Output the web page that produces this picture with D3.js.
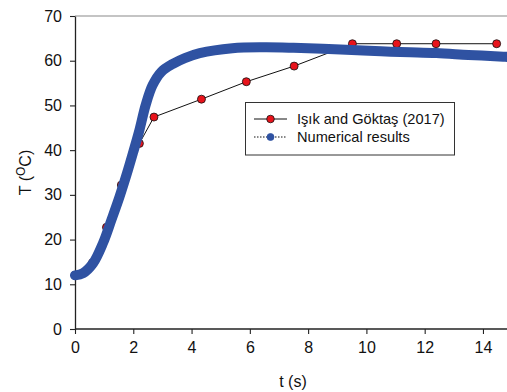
<!DOCTYPE html>
<html>
<head>
<meta charset="utf-8">
<script src="https://cdn.jsdelivr.net/npm/d3@7"></script>
<style>
  body { margin: 0; background: #fff; }
  text { font-family: "Liberation Sans", Arial, sans-serif; }
</style>
</head>
<body>
<div id="chart"></div>
<script>
// experimental data (Işık and Göktaş 2017)
const expTime = [0, 0.6, 1.08, 1.59, 2.21, 2.71, 4.34, 5.88, 7.52, 9.52, 11.04, 12.39, 14.47];
const expTemp = [12, 14.8, 22.75, 32.2, 41.5, 47.4, 51.4, 55.3, 58.8, 63.8, 63.8, 63.8, 63.8];

// numerical results
const numTime = [0, 0.28, 0.62, 0.96, 1.25, 1.53, 1.82, 2.0, 2.2, 2.43, 2.66, 2.96, 3.36, 3.77, 4.28, 5.4, 6.5, 7.5, 8.5, 9.5, 10.5, 11.5, 12.4, 13.5, 14.7, 15];
const numTemp = [12, 12.5, 14.7, 19.2, 24.4, 29.6, 35.6, 39.6, 44.2, 50.2, 54.5, 57.5, 59.3, 60.6, 61.7, 62.8, 63.0, 62.9, 62.7, 62.4, 62.1, 61.9, 61.7, 61.3, 60.9, 60.8];

const xTicks = [0, 2, 4, 6, 8, 10, 12, 14];
const yTicks = [0, 10, 20, 30, 40, 50, 60, 70];
const legendLabels = ["Işık and Göktaş (2017)", "Numerical results"];

const WIDTH = 507, HEIGHT = 392;
const MARGIN = { TOP: 16, LEFT: 75, BOTTOM: 63 };

const svg = d3.select("#chart").append("svg")
  .attr("width", WIDTH)
  .attr("height", HEIGHT);

const x = d3.scaleLinear().domain([0, 15]).range([MARGIN.LEFT, MARGIN.LEFT + 15 * 29.14]);
const y = d3.scaleLinear().domain([0, 70]).range([HEIGHT - MARGIN.BOTTOM, MARGIN.TOP]);

const BLUE = "#2f52a2";
const RED = "#e8131b";

// top frame line
svg.append("line")
  .attr("x1", x(0)).attr("x2", WIDTH)
  .attr("y1", y(70)).attr("y2", y(70))
  .attr("stroke", "#8a8a8a").attr("stroke-width", 1.2);

// axes
const xAxis = svg.append("g")
  .attr("transform", `translate(0, ${y(0)})`)
  .call(d3.axisBottom(x).tickValues(xTicks).tickSize(5).tickSizeOuter(0).tickPadding(8));
const yAxis = svg.append("g")
  .attr("transform", `translate(${x(0)}, 0)`)
  .call(d3.axisLeft(y).tickValues(yTicks).tickSize(5).tickSizeOuter(0).tickPadding(8));

[xAxis, yAxis].forEach(g => {
  g.select(".domain").attr("stroke", "#222").attr("stroke-width", 1.3);
  g.selectAll(".tick line").attr("stroke", "#222").attr("stroke-width", 1.1);
  g.selectAll(".tick text").attr("fill", "#111").style("font-size", "16px")
    .style("font-family", "'Liberation Sans', Arial, sans-serif");
});
// x axis line should run to the edge
xAxis.select(".domain").attr("d", `M${x(0)},0H${WIDTH}`);

const expData = expTime.map((t, i) => ({ t: t, v: expTemp[i] }));
const numData = numTime.map((t, i) => ({ t: t, v: numTemp[i] }));

// experimental series
const expLine = d3.line().x(d => x(d.t)).y(d => y(d.v));
svg.append("path")
  .datum(expData)
  .attr("d", expLine)
  .attr("fill", "none")
  .attr("stroke", "#111")
  .attr("stroke-width", 1);

svg.selectAll("circle.exp")
  .data(expData)
  .enter()
  .append("circle")
  .attr("class", "exp")
  .attr("cx", d => x(d.t))
  .attr("cy", d => y(d.v))
  .attr("r", 4)
  .attr("fill", RED)
  .attr("stroke", "#111")
  .attr("stroke-width", 0.8);

// numerical series (dense markers -> thick band)
const numLine = d3.line().curve(d3.curveCatmullRom.alpha(0.5)).x(d => x(d.t)).y(d => y(d.v));
svg.append("path")
  .datum(numData)
  .attr("d", numLine)
  .attr("fill", "none")
  .attr("stroke", BLUE)
  .attr("stroke-width", 10)
  .attr("stroke-linecap", "round")
  .attr("stroke-linejoin", "round");

// legend
const legend = svg.append("g");
legend.append("rect")
  .attr("x", 245.5).attr("y", 102.5)
  .attr("width", 209).attr("height", 52.5)
  .attr("fill", "#fff")
  .attr("stroke", "#333")
  .attr("stroke-width", 1);

const rows = legend.selectAll("g.row")
  .data(legendLabels)
  .enter()
  .append("g")
  .attr("class", "row")
  .attr("transform", (d, i) => `translate(0, ${119 + i * 18})`);

rows.append("line")
  .attr("x1", 254).attr("x2", 287)
  .attr("y1", 0).attr("y2", 0)
  .attr("stroke", "#111")
  .attr("stroke-width", 1)
  .attr("stroke-dasharray", (d, i) => i === 0 ? null : "1.5,1.5");

rows.append("circle")
  .attr("cx", 270.5).attr("cy", 0)
  .attr("r", (d, i) => i === 0 ? 3.8 : 3.5)
  .attr("fill", (d, i) => i === 0 ? RED : BLUE)
  .attr("stroke", (d, i) => i === 0 ? "#111" : BLUE)
  .attr("stroke-width", 0.8);

rows.append("text")
  .attr("x", 297)
  .attr("y", 5)
  .style("font-size", "14.6px")
  .attr("fill", "#111")
  .text(d => d);

// axis titles
svg.append("text")
  .attr("x", 293)
  .attr("y", 387)
  .attr("text-anchor", "middle")
  .style("font-size", "16px")
  .attr("fill", "#111")
  .text("t (s)");

const yTitle = svg.append("text")
  .attr("transform", `translate(31, ${(y(0) + y(70)) / 2}) rotate(-90)`)
  .attr("text-anchor", "middle")
  .style("font-size", "16px")
  .attr("fill", "#111");
yTitle.append("tspan").text("T (");
yTitle.append("tspan").attr("dy", -6).style("font-size", "12px").text("O");
yTitle.append("tspan").attr("dy", 6).text("C)");
</script>
</body>
</html>
